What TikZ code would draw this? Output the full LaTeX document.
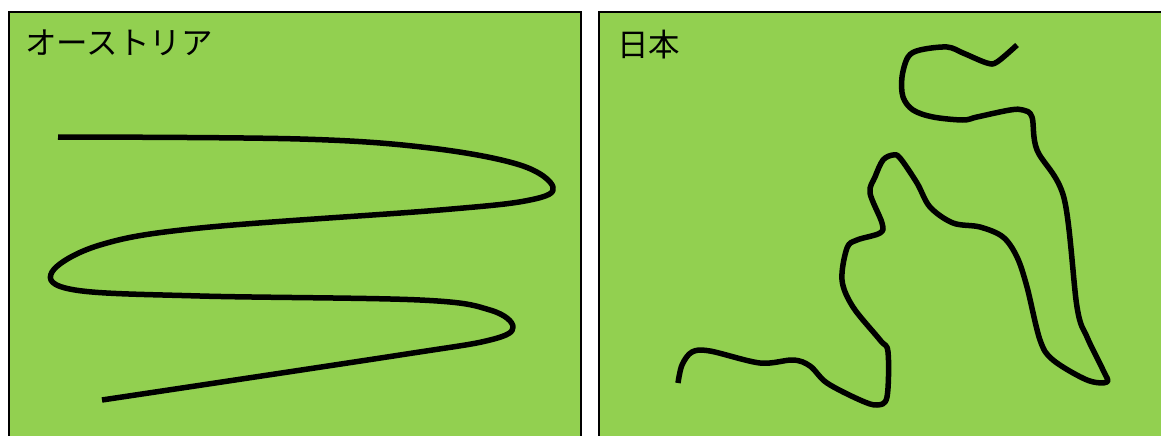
\documentclass[tikz,border=0pt]{standalone}
\usepackage{fontspec}
\newfontfamily\jpfont{Noto Sans CJK JP}
\definecolor{panelgreen}{HTML}{92D050}
\tikzset{
  panel/.style={draw=black, line width=1.5pt, fill=panelgreen},
  border/.style={line width=5.5pt, black, line cap=butt, line join=round},
  label/.style={anchor=north west, inner sep=0pt, font=\jpfont\fontsize{31.5}{34}\selectfont}
}
\begin{document}
\begin{tikzpicture}[x=1pt,y=-1pt]
\useasboundingbox (0,0) rectangle (1161,436);
\clip (0,0) rectangle (1161,436);
\path[panel] (9,12) rectangle (581,450);
\path[panel] (599,12) rectangle (1175,450);
\node[label] (austria) at (25,30) {オーストリア};
\node[label] (japan) at (617,30) {日本};
\draw[border] plot[smooth, tension=0.6] coordinates {
 (58,137) (300,139) (430,148) (520,165) (553,187) (530,200) (440,210)
 (200,228) (100,245) (52,272) (75,290) (200,296) (420,300) (490,310)
 (513,327) (490,340) (400,355) (102,400)};
\draw[border] plot[smooth, tension=0.55] coordinates {
 (678,383) (682,365) (692,352) (710,351) (760,363) (793,360) (810,366)
 (827,383) (860,400) (877,405) (887,397) (888,352) (880,340) (853,307)
 (842,280) (847,248) (857,240) (880,233) (882,223) (870,193) (875,177)
 (883,160) (893,155) (900,158) (917,183) (930,207) (953,223) (980,227)
 (1003,237) (1017,257) (1027,287) (1040,340) (1053,360) (1087,380)
 (1107,382) (1103,370) (1087,337) (1077,307) (1064,198) (1037,150)
 (1032,117) (1023,110) (1010,110) (977,117) (963,120) (933,117)
 (913,110) (903,97) (902,77) (908,57) (920,50) (947,47) (963,53)
 (987,63) (997,62) (1017,45)};
\end{tikzpicture}
\end{document}
